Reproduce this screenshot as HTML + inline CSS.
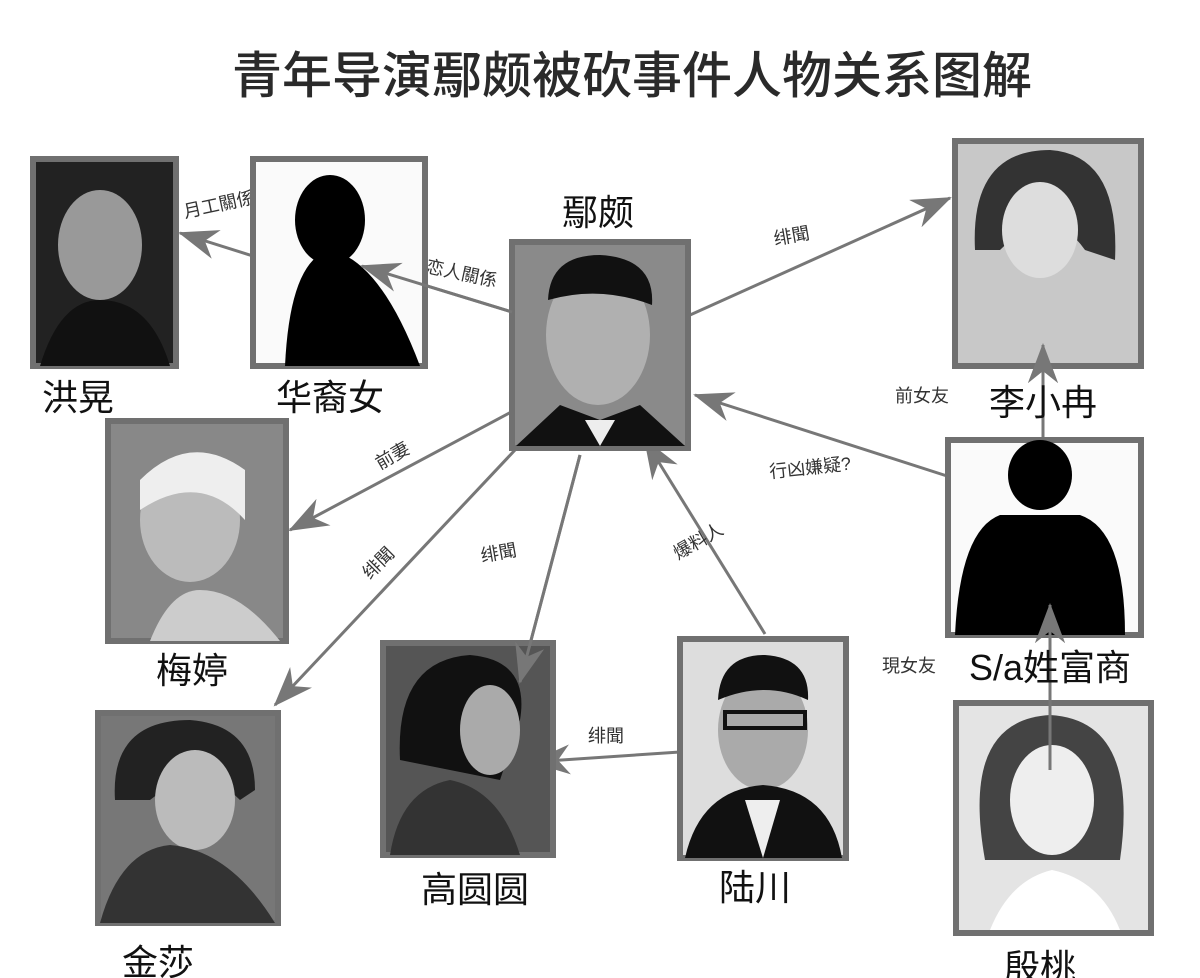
<!DOCTYPE html>
<html><head><meta charset="utf-8"><style>
html,body{margin:0;padding:0;background:#fff;}
svg{display:block;}
text{font-family:"Liberation Sans","Noto Sans CJK SC",sans-serif;}
</style></head><body>
<svg width="1200" height="978" viewBox="0 0 1200 978" xmlns="http://www.w3.org/2000/svg">
<defs>
<marker id="ah" viewBox="0 0 40 30" refX="38" refY="15" markerWidth="40" markerHeight="30" markerUnits="userSpaceOnUse" orient="auto">
<path d="M0,0 L40,15 L0,30 L12,15 Z" fill="#777"/>
</marker>
</defs>
<rect width="1200" height="978" fill="#fff"/>
<text x="632" y="93" font-size="50" text-anchor="middle" fill="#2a2a2a" font-weight="500">青年导演鄢颇被砍事件人物关系图解</text>

<g stroke="#777" stroke-width="3" fill="none" marker-end="url(#ah)">
<line x1="272" y1="262" x2="180" y2="233"/>
<line x1="512" y1="312" x2="362" y2="266"/>
<line x1="690" y1="315" x2="950" y2="198"/>
<line x1="975" y1="485" x2="695" y2="395"/>
<line x1="515" y1="410" x2="290" y2="530"/>
<line x1="515" y1="450" x2="275" y2="705"/>
<line x1="580" y1="455" x2="520" y2="682"/>
<line x1="765" y1="634" x2="645" y2="440"/>
<line x1="680" y1="752" x2="532" y2="762"/>
<line x1="1043" y1="437" x2="1043" y2="345"/>
<line x1="1050" y1="770" x2="1050" y2="605"/>
</g>

<g font-size="18" fill="#333" font-family="'Noto Serif CJK SC',serif">
<text x="185" y="218" transform="rotate(-12 185 218)">月工關係</text>
<text x="425" y="272" transform="rotate(12 425 272)">恋人關係</text>
<text x="775" y="245" transform="rotate(-10 775 245)">绯聞</text>
<text x="895" y="402">前女友</text>
<text x="770" y="478" transform="rotate(-6 770 478)">行凶嫌疑?</text>
<text x="380" y="470" transform="rotate(-30 380 470)">前妻</text>
<text x="370" y="580" transform="rotate(-45 370 580)">绯聞</text>
<text x="482" y="562" transform="rotate(-10 482 562)">绯聞</text>
<text x="678" y="560" transform="rotate(-30 678 560)">爆料人</text>
<text x="588" y="742">绯聞</text>
<text x="882" y="672">現女友</text>
</g>

<g stroke="#707070" stroke-width="6">
<rect x="33" y="159" width="143" height="207" fill="#222"/>
<rect x="253" y="159" width="172" height="207" fill="#fafafa"/>
<rect x="512" y="242" width="176" height="206" fill="#8a8a8a"/>
<rect x="955" y="141" width="186" height="225" fill="#c8c8c8"/>
<rect x="108" y="421" width="178" height="220" fill="#888"/>
<rect x="948" y="440" width="193" height="195" fill="#fafafa"/>
<rect x="383" y="643" width="170" height="212" fill="#555"/>
<rect x="680" y="639" width="166" height="219" fill="#ddd"/>
<rect x="98" y="713" width="180" height="210" fill="#777"/>
<rect x="956" y="703" width="195" height="230" fill="#e4e4e4"/>
</g>

<g>
<ellipse cx="100" cy="245" rx="42" ry="55" fill="#999"/>
<path d="M40,366 Q60,300 100,300 Q150,300 170,366 Z" fill="#111"/>
<ellipse cx="330" cy="220" rx="35" ry="45" fill="#000"/>
<path d="M285,366 Q290,260 330,250 Q380,260 420,366 Z" fill="#000"/>
<ellipse cx="598" cy="335" rx="52" ry="70" fill="#b0b0b0"/>
<path d="M548,300 Q550,255 600,255 Q655,258 652,305 Q600,285 548,300 Z" fill="#111"/>
<path d="M516,446 L560,405 L600,420 L640,405 L685,446 Z" fill="#111"/>
<path d="M585,420 L600,446 L615,420 Z" fill="#eee"/>
<path d="M975,250 Q970,150 1050,150 Q1120,155 1115,260 L1085,250 Q1050,200 1000,250 Z" fill="#333"/>
<ellipse cx="1040" cy="230" rx="38" ry="48" fill="#ddd"/>
<ellipse cx="190" cy="520" rx="50" ry="62" fill="#bbb"/>
<path d="M140,480 Q190,430 245,470 L245,520 Q200,470 140,510 Z" fill="#eee"/>
<path d="M150,641 Q170,590 200,590 Q240,590 280,641 Z" fill="#ccc"/>
<ellipse cx="1040" cy="475" rx="32" ry="35" fill="#000"/>
<path d="M955,635 Q960,530 1000,515 L1080,515 Q1125,530 1125,635 Z" fill="#000"/>
<path d="M400,760 Q395,660 470,655 Q530,660 520,720 L500,780 Z" fill="#111"/>
<ellipse cx="490" cy="730" rx="30" ry="45" fill="#aaa"/>
<path d="M390,855 Q400,790 450,780 Q500,790 520,855 Z" fill="#333"/>
<ellipse cx="763" cy="730" rx="45" ry="60" fill="#aaa"/>
<path d="M718,700 Q720,655 765,655 Q810,658 808,700 Q765,680 718,700 Z" fill="#111"/>
<rect x="725" y="712" width="80" height="16" fill="none" stroke="#111" stroke-width="4"/>
<path d="M685,858 Q700,790 763,785 Q830,790 842,858 Z" fill="#111"/>
<path d="M745,800 L763,858 L780,800 Z" fill="#eee"/>
<path d="M115,800 Q110,720 190,720 Q255,725 255,790 L240,800 Q200,760 150,800 Z" fill="#222"/>
<ellipse cx="195" cy="800" rx="40" ry="50" fill="#bbb"/>
<path d="M100,923 Q120,850 170,845 Q230,850 275,923 Z" fill="#333"/>
<path d="M985,860 Q960,720 1050,715 Q1140,720 1120,860 Z" fill="#444"/>
<ellipse cx="1052" cy="800" rx="42" ry="55" fill="#eee"/>
<path d="M990,930 Q1010,880 1052,870 Q1100,880 1120,930 Z" fill="#fff"/>
</g>

<g stroke="#777" stroke-width="3" fill="none" marker-end="url(#ah)">
<line x1="1043" y1="437" x2="1043" y2="345"/>
<line x1="1050" y1="770" x2="1050" y2="605"/>
<line x1="512" y1="312" x2="362" y2="266"/>
<line x1="580" y1="455" x2="520" y2="682"/>
</g>

<g font-size="36" fill="#111" text-anchor="middle">
<text x="598" y="225">鄢颇</text>
<text x="78" y="410">洪晃</text>
<text x="330" y="410">华裔女</text>
<text x="1043" y="415">李小冉</text>
<text x="192" y="683">梅婷</text>
<text x="1050" y="680">S/a姓富商</text>
<text x="475" y="902">高圆圆</text>
<text x="755" y="900">陆川</text>
<text x="158" y="975">金莎</text>
<text x="1040" y="980">殷桃</text>
</g>
</svg>
</body></html>
